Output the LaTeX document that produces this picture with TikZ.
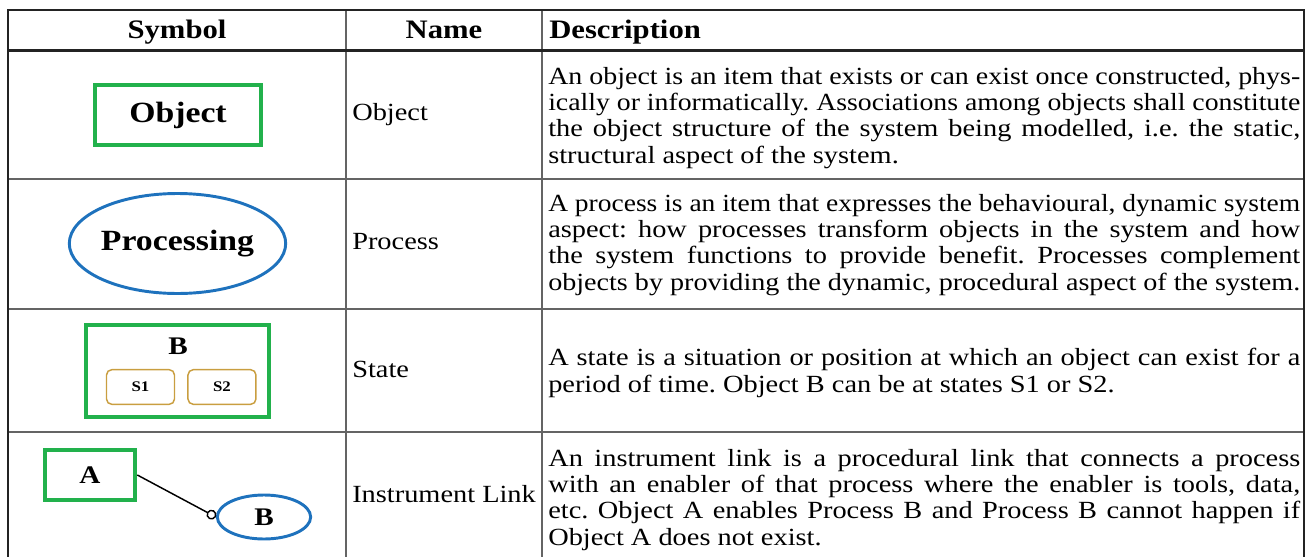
\documentclass[tikz,border=0pt]{standalone}
\usepackage{graphicx}
\usepackage{fontspec}
\setmainfont{Liberation Serif}[FakeStretch=1.15]
\usetikzlibrary{arrows.meta,positioning,shapes.geometric}
\definecolor{opmgreen}{RGB}{34,177,76}
\definecolor{opmblue}{RGB}{30,114,189}
\definecolor{opmgold}{RGB}{201,158,64}
\definecolor{rulegray}{RGB}{100,100,100}
\definecolor{ruledark}{RGB}{35,35,35}
\frenchspacing
% one justified line of the description column (squeezed when too long)
\newlength{\descwd}
\newcommand{\jline}[1]{\settowidth{\descwd}{#1}%
	\ifdim\descwd>564pt\scalebox{\fpeval{564/\descwd}}[1]{#1}\else\makebox[564pt][s]{#1}\fi}

\begin{document}
\begin{tikzpicture}[x=0.75pt,y=0.75pt,
	outerrule/.style={ruledark,line width=2pt},
	innerrule/.style={rulegray,line width=1.4pt},
	headtext/.style={font=\fontsize{20}{24}\selectfont\bfseries,inner sep=0pt},
	nametext/.style={font=\fontsize{18.5}{22}\selectfont,inner sep=0pt,anchor=mid west},
	desctext/.style={font=\fontsize{18.5}{19.7}\selectfont,inner sep=0pt,align=left,anchor=base west},
	objbox/.style={draw=opmgreen,line width=3pt,inner sep=0pt,font=\bfseries},
	procell/.style={ellipse,draw=opmblue,line width=2.2pt,inner sep=0pt,font=\bfseries},
	statebox/.style={draw=opmgold,line width=1.1pt,rounded corners=4pt,minimum width=51pt,minimum height=26pt,inner sep=0pt,font=\fontsize{11}{13}\selectfont\bfseries},
	link/.style={line width=1.1pt,-{Circle[open,length=7.5pt,width=7.5pt,line width=1.1pt]}}
]
	\useasboundingbox (0,0) rectangle (1311,-557);
	% Table rules
	\foreach \y in {-179,-309,-432}
		\draw[innerrule] (8,\y) -- (1304,\y);
	\foreach \x in {346,542}
		\draw[innerrule] (\x,-10) -- (\x,-557);
	\draw[outerrule] (8,-557) -- (8,-10) -- (1304,-10) -- (1304,-557);
	\draw[outerrule] (8,-50.6) -- (1304,-50.6);
	% Header
	\node[headtext,anchor=mid] (hsym) at (177,-35) {Symbol};
	\node[headtext,anchor=mid] (hname) at (444,-35) {Name};
	\node[headtext,anchor=mid west] (hdesc) at (549,-35) {Description};
	% Object
	\node[objbox,minimum width=125pt,minimum height=45pt,font=\fontsize{22}{26}\selectfont\bfseries] (obj) at (178,-115) {Object};
	\node[nametext] (nobj) at (352,-117) {Object};
	\node[desctext] (dobj) at (548,-163) {\jline{An object is an item that exists or can exist once constructed, phys-}\\
		\jline{ically or informatically. Associations among objects shall constitute}\\
		\jline{the object structure of the system being modelled, i.e. the static,}\\
		structural aspect of the system.};
	% Process
	\node[procell,minimum width=159pt,minimum height=75pt,font=\fontsize{22}{26}\selectfont\bfseries] (proc) at (177.5,-243.5) {Processing};
	\node[nametext] (nproc) at (352,-246) {Process};
	\node[desctext] (dproc) at (548,-290) {\jline{A process is an item that expresses the behavioural, dynamic system}\\
		\jline{aspect: how processes transform objects in the system and how}\\
		\jline{the system functions to provide benefit. Processes complement}\\
		\jline{objects by providing the dynamic, procedural aspect of the system.}};
	% State
	\node[objbox,minimum width=137pt,minimum height=69pt] (stB) at (177.5,-371) {};
	\node[font=\fontsize{19}{23}\selectfont\bfseries,inner sep=0pt] (lblB) at (178,-346) {B};
	\node[statebox] (s1) at (140.5,-387) {S1};
	\node[statebox,right=9pt of s1] (s2) {S2};
	\node[nametext] (nstate) at (352,-374) {State};
	\node[desctext] (dstate) at (548,-392) {\jline{A state is a situation or position at which an object can exist for a}\\
		period of time. Object B can be at states S1 or S2.};
	% Instrument link
	\node[objbox,minimum width=68pt,minimum height=38pt,font=\fontsize{19}{23}\selectfont\bfseries] (A) at (90,-475) {A};
	\node[procell,minimum width=70pt,minimum height=33pt,font=\fontsize{19}{23}\selectfont\bfseries] (B) at (264,-517) {B};
	\draw[link] (A.east) -- (B.west);
	\node[nametext] (ninst) at (352,-499) {Instrument Link};
	\node[desctext] (dinst) at (548,-545) {\jline{An instrument link is a procedural link that connects a process}\\
		\jline{with an enabler of that process where the enabler is tools, data,}\\
		\jline{etc. Object A enables Process B and Process B cannot happen if}\\
		Object A does not exist.};
\end{tikzpicture}
\end{document}
